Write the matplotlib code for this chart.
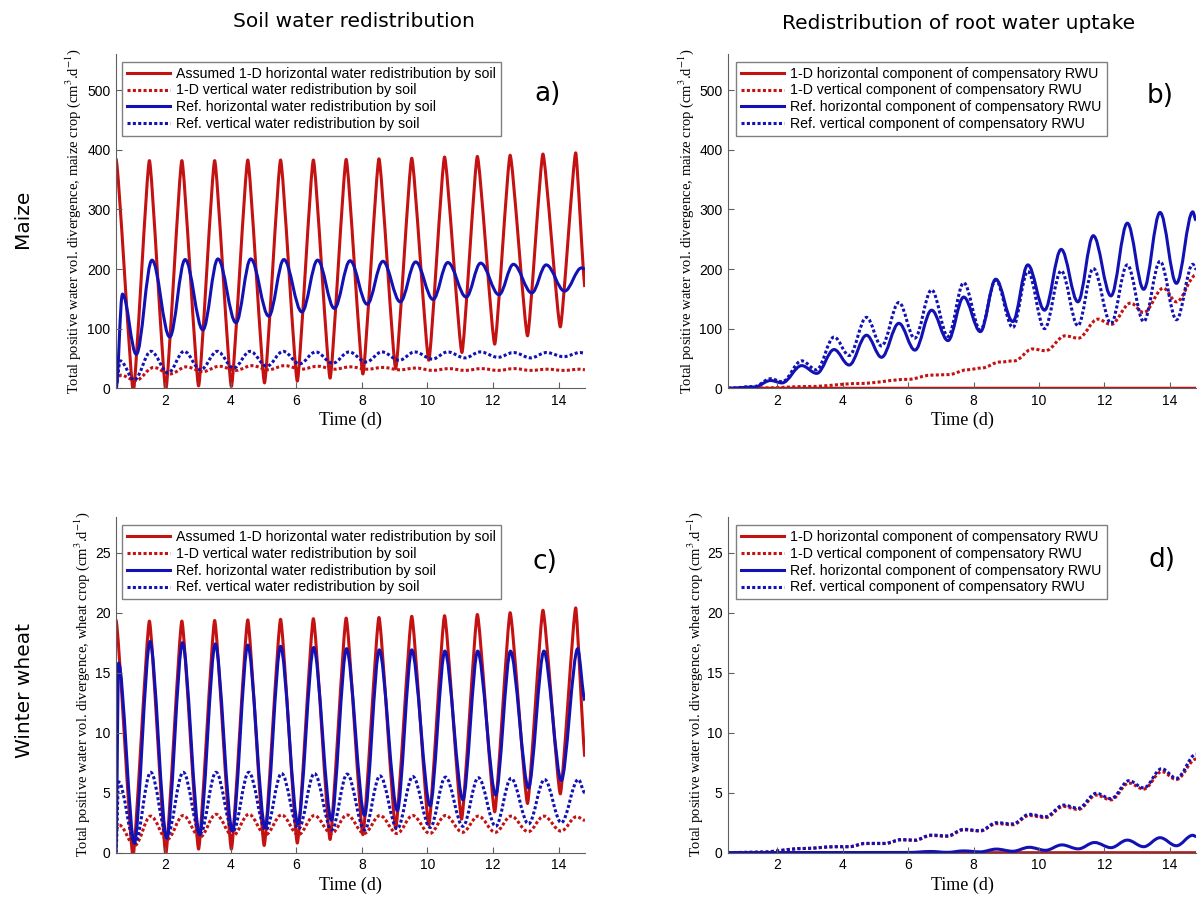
import matplotlib
matplotlib.use("Agg")
import matplotlib.pyplot as plt
from matplotlib.path import Path
from matplotlib.patches import PathPatch
from matplotlib.lines import Line2D

plt.rcParams['font.family'] = 'Liberation Sans'
plt.rcParams['mathtext.fontset'] = 'stix'

RED = '#c41212'
BLUE = '#1212b4'
LW = 2.2
DOT = (0, (1.0, 0.75))

# ---- maize, soil redistribution (local extremes, t in days) ----
a_red_t = [0.5, 1.03, 1.52, 2.02, 2.51, 3.02, 3.51, 4.02, 4.52, 5.03, 5.52, 6.03, 6.52, 7.03, 7.52,
           8.03, 8.52, 9.03, 9.52, 10.04, 10.52, 11.05, 11.52, 12.05, 12.52, 13.05, 13.52, 14.05, 14.52, 14.8]
a_red_v = [385, -5, 382, -3, 382, 4, 382, 3, 383, 9, 383, 12, 383, 17, 384,
           24, 385, 33, 386, 47, 388, 60, 389, 74, 391, 88, 393, 103, 395, 170]
a_reddot_t = [0.5, 0.65, 1.1, 1.65, 2.15, 2.65, 3.15, 3.65, 4.15, 4.65, 5.15, 5.65, 6.15, 6.65, 7.15, 7.65,
              8.15, 8.65, 9.15, 9.65, 10.15, 10.65, 11.15, 11.65, 12.15, 12.65, 13.15, 13.65, 14.15, 14.65, 14.8]
a_reddot_v = [13, 22, 13, 35, 24, 36, 28, 37, 30, 38, 31, 38, 32, 37, 32, 36,
              32, 35, 31, 34, 30, 33, 30, 33, 30, 33, 30, 32, 30, 32, 31]
a_blue_t = [0.5, 0.7, 1.12, 1.6, 2.14, 2.61, 3.15, 3.61, 4.16, 4.61, 5.16, 5.62, 6.17, 6.65, 7.16, 7.64,
            8.16, 8.64, 9.17, 9.64, 10.17, 10.62, 11.18, 11.62, 12.18, 12.62, 13.18, 13.62, 14.18, 14.7, 14.8]
a_blue_v = [0, 158, 57, 215, 86, 216, 98, 217, 110, 217, 121, 216, 128, 215, 134, 214,
            141, 213, 145, 212, 149, 211, 153, 210, 157, 208, 160, 207, 163, 202, 200]
a_bluedot_t = [0.5, 0.63, 1.06, 1.57, 2.09, 2.58, 3.08, 3.59, 4.09, 4.59, 5.1, 5.6, 6.1, 6.59, 7.11, 7.61,
               8.13, 8.61, 9.14, 9.61, 10.15, 10.61, 11.14, 11.61, 12.15, 12.62, 13.15, 13.63, 14.15, 14.65, 14.8]
a_bluedot_v = [0, 46, 14, 62, 26, 62, 31, 62, 34, 62, 37, 62, 41, 61, 42, 61,
               44, 61, 47, 61, 49, 61, 51, 61, 52, 60, 51, 60, 53, 60, 59]

# ---- maize, root water uptake ----
b_red_t = [0.5, 14.8]
b_red_v = [0, 0]
b_reddot_t = [0.5, 1.5, 3.0, 4.5, 6.0, 6.7, 7.25, 7.8, 8.25, 8.8, 9.25, 9.8, 10.2, 10.8, 11.2,
              11.8, 12.2, 12.8, 13.2, 13.8, 14.2, 14.8]
b_reddot_v = [0, 0.5, 3, 8, 15, 22, 23, 31, 34, 44, 46, 66, 63, 88, 84,
              116, 107, 143, 127, 168, 145, 190]
b_blue_t = [0.5, 1.3, 1.8, 2.15, 2.75, 3.21, 3.74, 4.2, 4.73, 5.19, 5.72, 6.21, 6.72, 7.22, 7.7,
            8.21, 8.68, 9.2, 9.66, 10.17, 10.68, 11.19, 11.66, 12.2, 12.7, 13.2, 13.7, 14.2, 14.7, 14.8]
b_blue_v = [0, 2, 13, 9, 38, 25, 65, 39, 89, 52, 109, 64, 131, 80, 153,
            95, 183, 112, 207, 131, 233, 145, 256, 155, 277, 166, 295, 176, 296, 282]
b_bluedot_t = [0.5, 1.3, 1.8, 2.15, 2.75, 3.2, 3.74, 4.2, 4.73, 5.19, 5.72, 6.2, 6.72, 7.22, 7.7,
               8.21, 8.68, 9.2, 9.66, 10.17, 10.68, 11.19, 11.66, 12.2, 12.7, 13.2, 13.7, 14.2, 14.7, 14.8]
b_bluedot_v = [0, 3, 16, 11, 46, 31, 86, 55, 119, 71, 144, 84, 165, 87, 177,
               98, 181, 102, 196, 100, 197, 105, 201, 109, 207, 112, 213, 115, 208, 200]

# ---- winter wheat, soil redistribution ----
c_red_t = [0.5, 1.02, 1.52, 2.02, 2.51, 3.02, 3.51, 4.02, 4.52, 5.02, 5.52, 6.03, 6.52, 7.03, 7.52,
           8.03, 8.52, 9.03, 9.52, 10.04, 10.52, 11.04, 11.52, 12.05, 12.52, 13.05, 13.52, 14.05, 14.52, 14.8]
c_red_v = [19.4, -0.3, 19.3, -0.1, 19.3, 0.3, 19.35, 0.3, 19.4, 0.6, 19.45, 0.8, 19.5, 1.1, 19.55,
           1.5, 19.6, 2.0, 19.7, 2.3, 19.75, 2.8, 19.85, 3.4, 20.0, 4.1, 20.2, 4.9, 20.4, 8.0]
c_reddot_t = [0.5, 0.6, 1.07, 1.56, 2.06, 2.55, 3.06, 3.55, 4.06, 4.55, 5.06, 5.55, 6.06, 6.55, 7.07, 7.55,
              8.07, 8.55, 9.07, 9.55, 10.07, 10.55, 11.07, 11.55, 12.07, 12.55, 13.07, 13.55, 14.07, 14.55, 14.8]
c_reddot_v = [2.0, 2.3, 0.6, 3.05, 1.1, 3.1, 1.3, 3.2, 1.4, 3.2, 1.5, 3.15, 1.5, 3.1, 1.6, 3.15,
              1.6, 3.1, 1.6, 3.1, 1.6, 3.1, 1.7, 3.05, 1.7, 3.05, 1.75, 3.05, 1.8, 3.0, 2.7]
c_blue_t = [0.5, 0.58, 1.06, 1.54, 2.05, 2.53, 3.05, 3.53, 4.05, 4.52, 5.05, 5.52, 6.05, 6.53, 7.07, 7.53,
            8.08, 8.53, 9.08, 9.52, 10.08, 10.53, 11.08, 11.53, 12.08, 12.53, 13.08, 13.55, 14.08, 14.58, 14.8]
c_blue_v = [0, 15.8, 0.8, 17.6, 1.2, 17.5, 1.5, 17.4, 1.8, 17.3, 2.1, 17.2, 2.4, 17.1, 2.7, 17.0,
            3.1, 16.9, 3.5, 16.9, 3.9, 16.8, 4.4, 16.8, 4.8, 16.8, 5.4, 16.8, 6.0, 17.0, 12.7]
c_bluedot_t = [0.5, 0.58, 1.08, 1.56, 2.06, 2.55, 3.07, 3.55, 4.07, 4.55, 5.07, 5.55, 6.07, 6.55, 7.08, 7.55,
               8.08, 8.55, 9.08, 9.55, 10.08, 10.55, 11.08, 11.55, 12.08, 12.55, 13.08, 13.57, 14.08, 14.6, 14.8]
c_bluedot_v = [0, 5.9, 0.8, 6.7, 1.4, 6.7, 1.6, 6.7, 1.8, 6.7, 1.9, 6.6, 2.0, 6.6, 1.9, 6.55,
               1.9, 6.4, 2.0, 6.35, 2.1, 6.3, 2.2, 6.25, 2.2, 6.2, 2.4, 6.1, 2.5, 6.1, 5.0]

# ---- winter wheat, root water uptake ----
d_red_t = [0.5, 14.8]
d_red_v = [0, 0]
d_dot_t = [0.5, 1.5, 2.8, 3.8, 4.2, 4.7, 5.3, 5.8, 6.2, 6.7, 7.2, 7.7, 8.2, 8.7, 9.2, 9.7,
           10.2, 10.75, 11.2, 11.75, 12.2, 12.75, 13.2, 13.75, 14.2, 14.8]
d_reddot_v = [0, 0.05, 0.35, 0.5, 0.5, 0.76, 0.76, 1.07, 1.02, 1.43, 1.36, 1.9, 1.8, 2.42, 2.33, 3.1,
              2.92, 3.85, 3.6, 4.8, 4.4, 5.8, 5.3, 6.75, 6.1, 7.8]
d_bluedot_v = [0, 0.05, 0.35, 0.5, 0.5, 0.78, 0.78, 1.1, 1.05, 1.47, 1.4, 1.95, 1.84, 2.5, 2.4, 3.2,
               3.0, 3.97, 3.7, 4.95, 4.5, 6.0, 5.4, 7.0, 6.2, 8.2]
d_blue_t = [0.5, 6.0, 6.7, 7.2, 7.7, 8.2, 8.7, 9.2, 9.7, 10.2, 10.7, 11.2, 11.7, 12.2, 12.7,
            13.2, 13.7, 14.2, 14.7, 14.8]
d_blue_v = [0, 0.02, 0.1, 0.03, 0.15, 0.07, 0.3, 0.12, 0.45, 0.2, 0.65, 0.32, 0.85, 0.42, 1.05,
            0.5, 1.25, 0.58, 1.45, 1.35]

soil_labels = ['Assumed 1-D horizontal water redistribution by soil',
               '1-D vertical water redistribution by soil',
               'Ref. horizontal water redistribution by soil',
               'Ref. vertical water redistribution by soil']
rwu_labels = ['1-D horizontal component of compensatory RWU',
              '1-D vertical component of compensatory RWU',
              'Ref. horizontal component of compensatory RWU',
              'Ref. vertical component of compensatory RWU']


def curve(ax, t, v, color, ls='-', k=0.36):
    # cubic segments between successive extremes, flat tangent at each extreme
    verts = [(t[0], v[0])]
    codes = [Path.MOVETO]
    for i in range(1, len(t)):
        dt = t[i] - t[i - 1]
        verts += [(t[i - 1] + k * dt, v[i - 1]), (t[i] - k * dt, v[i]), (t[i], v[i])]
        codes += [Path.CURVE4] * 3
    ax.add_patch(PathPatch(Path(verts, codes), fill=False, edgecolor=color,
                           lw=LW, linestyle=ls, capstyle='butt', joinstyle='round'))


def setup(ax, ymax, yticks, crop, labels, legend_xy, ylab_x):
    ax.set_xlim(0.5, 14.8)
    ax.set_ylim(0, ymax)
    ax.set_xticks([2, 4, 6, 8, 10, 12, 14])
    ax.set_yticks(yticks)
    for s in ['top', 'right']:
        ax.spines[s].set_visible(False)
    for s in ['left', 'bottom']:
        ax.spines[s].set_color('#606060')
        ax.spines[s].set_linewidth(0.8)
    ax.tick_params(direction='in', length=4, width=0.8, color='#606060',
                   labelsize=10, pad=4)
    ax.set_xlabel('Time (d)', family='Liberation Serif', fontsize=13)
    ax.set_ylabel('Total positive water vol. divergence, %s crop (cm$^3$.d$^{-1}$)' % crop,
                  family='Liberation Serif', fontsize=10.5)
    ax.xaxis.label.set_va('center')
    ax.xaxis.set_label_coords(0.5, -0.097)
    ax.yaxis.label.set_va('center')
    ax.yaxis.set_label_coords(ylab_x, 0.5)
    handles = [Line2D([], [], color=RED, lw=LW),
               Line2D([], [], color=RED, lw=LW, ls=DOT),
               Line2D([], [], color=BLUE, lw=LW),
               Line2D([], [], color=BLUE, lw=LW, ls=DOT)]
    leg = ax.legend(handles, labels, loc='upper left', bbox_to_anchor=legend_xy,
                    bbox_transform=fig.transFigure, borderaxespad=0, fontsize=10.2,
                    handlelength=3.0, handletextpad=0.45, labelspacing=0.2,
                    borderpad=0.35, fancybox=False, framealpha=1)
    leg.get_frame().set_edgecolor('#808080')
    leg.get_frame().set_linewidth(1.0)


fig = plt.figure(figsize=(12.04, 8.99), dpi=100)
ax_a = fig.add_axes([0.0963, 0.5681, 0.3895, 0.3713])
ax_b = fig.add_axes([0.6047, 0.5681, 0.3887, 0.3713])
ax_c = fig.add_axes([0.0963, 0.0515, 0.3895, 0.3738])
ax_d = fig.add_axes([0.6047, 0.0515, 0.3887, 0.3738])

curve(ax_a, a_red_t, a_red_v, RED, k=0.15)
curve(ax_a, a_reddot_t, a_reddot_v, RED, DOT)
curve(ax_a, a_blue_t, a_blue_v, BLUE)
curve(ax_a, a_bluedot_t, a_bluedot_v, BLUE, DOT)

curve(ax_b, b_red_t, b_red_v, RED)
curve(ax_b, b_reddot_t, b_reddot_v, RED, DOT)
curve(ax_b, b_blue_t, b_blue_v, BLUE)
curve(ax_b, b_bluedot_t, b_bluedot_v, BLUE, DOT)

curve(ax_c, c_red_t, c_red_v, RED, k=0.15)
curve(ax_c, c_reddot_t, c_reddot_v, RED, DOT)
curve(ax_c, c_blue_t, c_blue_v, BLUE, k=0.3)
curve(ax_c, c_bluedot_t, c_bluedot_v, BLUE, DOT)

curve(ax_d, d_red_t, d_red_v, RED)
curve(ax_d, d_dot_t, d_reddot_v, RED, DOT)
curve(ax_d, d_blue_t, d_blue_v, BLUE)
curve(ax_d, d_dot_t, d_bluedot_v, BLUE, DOT)

setup(ax_a, 560, range(0, 501, 100), 'maize', soil_labels, (0.1016, 0.9314), -0.092)
setup(ax_b, 560, range(0, 501, 100), 'maize', rwu_labels, (0.6117, 0.9314), -0.089)
setup(ax_c, 28, range(0, 26, 5), 'wheat', soil_labels, (0.1016, 0.416), -0.072)
setup(ax_d, 28, range(0, 26, 5), 'wheat', rwu_labels, (0.6117, 0.416), -0.071)

big = dict(family='DejaVu Sans', ha='center', va='center')
fig.text(0.294, 0.970, 'Soil water redistribution', fontsize=14.5, va='baseline',
         family='DejaVu Sans', ha='center')
fig.text(0.7965, 0.968, 'Redistribution of root water uptake', fontsize=14.5, va='baseline',
         family='DejaVu Sans', ha='center')
fig.text(0.0183, 0.7564, 'Maize', fontsize=14.5, rotation=90, **big)
fig.text(0.020, 0.2314, 'Winter wheat', fontsize=14.5, rotation=90, **big)
for x, y, s in [(0.4547, 0.8954, 'a)'), (0.9635, 0.8932, 'b)'),
                (0.4527, 0.3749, 'c)'), (0.9651, 0.3771, 'd)')]:
    fig.text(x, y, s, fontsize=19, **big)

fig.savefig('out.png', dpi=100)
